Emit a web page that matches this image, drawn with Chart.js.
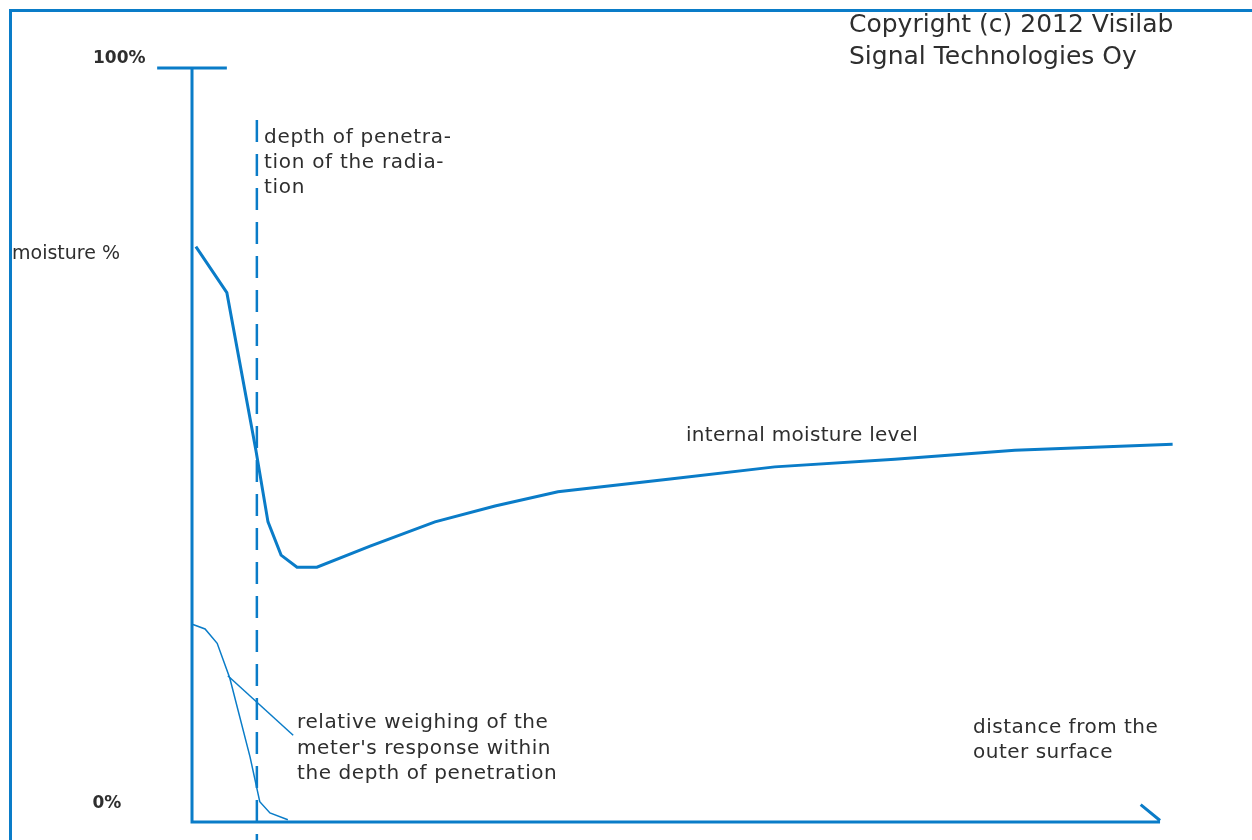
<!DOCTYPE html>
<html>
<head>
<meta charset="utf-8">
<script src="https://cdn.jsdelivr.net/npm/chart.js@4.4.1/dist/chart.umd.min.js"></script>
<style>
  html, body { margin: 0; padding: 0; background: #fff; }
  #wrap { position: relative; width: 1252px; height: 840px; overflow: hidden; }
  #frame { position: absolute; left: 9px; top: 9px; width: 1300px; height: 900px;
           border-left: 3px solid #0a7cc8; border-top: 3px solid #0a7cc8; }
  canvas { position: absolute; left: 0; top: 0; }
</style>
</head>
<body>
<div id="wrap">
  <div id="frame"></div>
  <canvas id="chart" width="1252" height="840"></canvas>
</div>
<script>
// ─── Data (distance in arbitrary units 0..100, moisture in %) ─────
const moistureX = [0.4, 3.6, 6.6, 7.85, 9.2, 10.85, 12.9, 18.4, 25.1, 31.3, 37.8, 49.4, 60.2, 72.6, 85.0, 101.3];
const moistureY = [76.3, 70.2, 49.3, 39.8, 35.4, 33.8, 33.8, 36.6, 39.8, 41.9, 43.8, 45.5, 47.1, 48.1, 49.3, 50.1];

const weightX = [0.1, 1.35, 2.6, 3.9, 6.0, 7.0, 8.05, 9.9];
const weightY = [26.2, 25.6, 23.7, 19.1, 8.6, 2.7, 1.2, 0.3];

const penetrationDepth = 6.7;      // dashed vertical line
const leaderX = [3.7, 10.45];      // pointer to the weighing label
const leaderY = [19.4, 11.5];

const yTickLabels = ['0%', '100%'];

const BLUE = '#0a7cc8';
const TEXT = '#2e2e2e';

const pts = (xs, ys) => xs.map((x, i) => ({ x, y: ys[i] }));

// ─── Axes, ticks and labels ───────────────────────────────────────
const sketchPlugin = {
  id: 'sketch',
  beforeDatasetsDraw(chart) {
    const { ctx, scales: { x, y } } = chart;
    const X = v => x.getPixelForValue(v);
    const Y = v => y.getPixelForValue(v);
    ctx.save();
    ctx.strokeStyle = BLUE;
    ctx.lineWidth = 3;
    ctx.lineCap = 'butt';
    // y axis + 100% tick
    ctx.beginPath();
    ctx.moveTo(X(0), Y(-0.2));
    ctx.lineTo(X(0), Y(100));
    ctx.moveTo(X(-3.6), Y(100));
    ctx.lineTo(X(3.6), Y(100));
    // x axis + end mark
    ctx.moveTo(X(0) - 1.5, Y(0));
    ctx.lineTo(X(100), Y(0));
    ctx.moveTo(X(98), Y(2.3));
    ctx.lineTo(X(100), Y(0.2));
    ctx.stroke();
    // penetration depth (dashed)
    ctx.lineWidth = 2.5;
    ctx.setLineDash([22, 12]);
    ctx.beginPath();
    ctx.moveTo(X(penetrationDepth), Y(93.1));
    ctx.lineTo(X(penetrationDepth), Y(-3));
    ctx.stroke();
    ctx.setLineDash([]);
    // leader line
    ctx.lineWidth = 1.5;
    ctx.beginPath();
    ctx.moveTo(X(leaderX[0]), Y(leaderY[0]));
    ctx.lineTo(X(leaderX[1]), Y(leaderY[1]));
    ctx.stroke();

    // tick labels
    ctx.fillStyle = TEXT;
    ctx.textBaseline = 'middle';
    ctx.textAlign = 'right';
    ctx.font = 'bold 17px "DejaVu Sans", sans-serif';
    ctx.fillText(yTickLabels[1], X(-4.8), Y(101.3));
    ctx.fillText(yTickLabels[0], X(-7.3), Y(2.5));

    // annotations
    ctx.textAlign = 'left';
    const block = (lines, px, py, lh, font, spacing) => {
      ctx.font = font;
      ctx.letterSpacing = spacing || '0px';
      lines.forEach((t, i) => ctx.fillText(t, px, py + i * lh));
    };
    const f20 = '20px "DejaVu Sans", sans-serif';
    block(['Copyright (c) 2012 Visilab', 'Signal Technologies Oy'], 849, 25, 32, '25px "DejaVu Sans", sans-serif');
    block(['moisture %'], 12, 254, 0, '19px "DejaVu Sans", sans-serif', '0px');
    block(['depth of penetra-', 'tion of the radia-', 'tion'], 264, 138, 25, f20, '0.7px');
    block(['internal moisture level'], 686, 436, 0, f20, '0.3px');
    block(['relative weighing of the', "meter's response within", 'the depth of penetration'], 297, 723, 25.5, f20, '0.6px');
    block(['distance from the', 'outer surface'], 973, 728, 25, f20, '0.5px');
    ctx.restore();
  }
};

// ─── Chart ────────────────────────────────────────────────────────
new Chart(document.getElementById('chart'), {
  type: 'scatter',
  data: {
    datasets: [
      { label: 'internal moisture level', data: pts(moistureX, moistureY),
        showLine: true, borderColor: BLUE, borderWidth: 3, pointRadius: 0, clip: false },
      { label: 'relative weighing', data: pts(weightX, weightY),
        showLine: true, borderColor: BLUE, borderWidth: 1.5, pointRadius: 0, clip: false }
    ]
  },
  options: {
    responsive: false,
    animation: false,
    layout: { padding: 0 },
    plugins: { legend: { display: false }, tooltip: { enabled: false } },
    scales: {
      x: { type: 'linear', display: false, min: -19.835, max: 109.5 },
      y: { type: 'linear', display: false, min: -2.387, max: 109.02 }
    }
  },
  plugins: [sketchPlugin]
});
</script>
</body>
</html>
